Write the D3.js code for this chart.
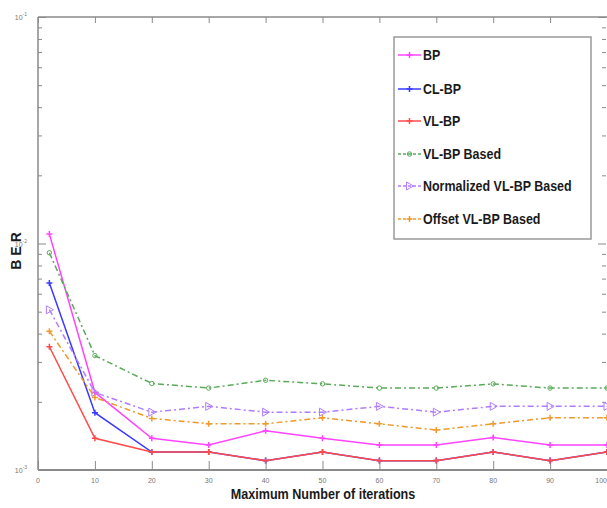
<!DOCTYPE html>
<html>
<head>
<meta charset="utf-8">
<script src="https://cdn.jsdelivr.net/npm/d3@7"></script>
<style>
  body { margin: 0; background: #fff; }
  svg { display: block; }
  .lbl { font-family: "Liberation Sans", Arial, sans-serif; font-weight: bold; }
</style>
</head>
<body>
<div id="chart"></div>
<script>
// iterations on the x axis
let iterations = [2, 10, 20, 30, 40, 50, 60, 70, 80, 90, 100];

// BER values
let bp         = [0.0110, 0.0022, 0.00138, 0.00129, 0.00149, 0.00138, 0.00129, 0.00129, 0.00139, 0.00129, 0.00129];
let clBp       = [0.0067, 0.00179, 0.00120, 0.00120, 0.00110, 0.00120, 0.00110, 0.00110, 0.00120, 0.00110, 0.00120];
let vlBp       = [0.0035, 0.00138, 0.00120, 0.00120, 0.00110, 0.00120, 0.00110, 0.00110, 0.00120, 0.00110, 0.00120];
let vlBpBased  = [0.0091, 0.0032, 0.00241, 0.00230, 0.00249, 0.00240, 0.00230, 0.00230, 0.00240, 0.00230, 0.00230];
let normVlBp   = [0.0051, 0.0022, 0.00180, 0.00191, 0.00180, 0.00180, 0.00191, 0.00180, 0.00191, 0.00191, 0.00191];
let offsetVlBp = [0.0041, 0.00209, 0.00169, 0.00160, 0.00160, 0.00170, 0.00160, 0.00150, 0.00160, 0.00170, 0.00170];

let seriesNames = ["BP", "CL-BP", "VL-BP", "VL-BP Based", "Normalized VL-BP Based", "Offset VL-BP Based"];
let seriesValues = [bp, clBp, vlBp, vlBpBased, normVlBp, offsetVlBp];
let seriesColors = ["#ff44ff", "#3a3aff", "#ff4a4a", "#5aaa5a", "#b07cff", "#ef9a2e"];
let seriesDash = ["", "", "", "6,3,2,3", "6,3,2,3", "6,3,2,3"];
let seriesMarker = ["plus", "plus", "plus", "circle", "tri", "plus"];

let xTicks = [0, 10, 20, 30, 40, 50, 60, 70, 80, 90, 100];
let yDecades = [-3, -2, -1];

let w = 607;
let h = 508;
let padL = 38, padT = 17, padR = 607, padB = 470;

let svg = d3.select("#chart")
    .append("svg")
    .attr("width", w)
    .attr("height", h);

let x = d3.scaleLinear().domain([0, 100]).range([padL, padR]);
let y = d3.scaleLog().domain([1e-3, 1e-1]).range([padB, padT]);

let axisColor = "#8a8a8a";

// minor log ticks
let minor = [];
yDecades.slice(0, 2).forEach(function (e) {
    for (let k = 2; k <= 9; k++) {
        minor.push(k * Math.pow(10, e));
    }
});
let major = yDecades.map(function (e) { return Math.pow(10, e); });

function tickGroup(axis, tx, ty) {
    let g = svg.append("g")
        .attr("transform", "translate(" + tx + "," + ty + ")")
        .call(axis);
    g.select(".domain").remove();
    g.selectAll("line").attr("stroke", axisColor);
}

tickGroup(d3.axisRight(y).tickValues(minor).tickSize(4).tickFormat(""), padL, 0);
tickGroup(d3.axisRight(y).tickValues(major).tickSize(8).tickFormat(""), padL, 0);
tickGroup(d3.axisLeft(y).tickValues(minor).tickSize(4).tickFormat(""), padR - 1, 0);
tickGroup(d3.axisLeft(y).tickValues(major).tickSize(8).tickFormat(""), padR - 1, 0);
tickGroup(d3.axisTop(x).tickValues(xTicks).tickSize(9).tickFormat(""), 0, padB);
tickGroup(d3.axisBottom(x).tickValues(xTicks).tickSize(6).tickFormat(""), 0, padT);

// frame
svg.append("line").attr("x1", padL).attr("x2", padR).attr("y1", padB).attr("y2", padB)
    .attr("stroke", axisColor).attr("stroke-width", 2);
svg.append("line").attr("x1", padL).attr("x2", padL).attr("y1", padT).attr("y2", padB)
    .attr("stroke", axisColor).attr("stroke-width", 1.5);
svg.append("line").attr("x1", padL).attr("x2", padR).attr("y1", padT).attr("y2", padT)
    .attr("stroke", axisColor).attr("stroke-width", 1.5);

// tick labels
svg.selectAll(".xlbl")
    .data(xTicks)
    .enter()
    .append("text")
    .attr("class", "xlbl")
    .attr("x", function (d) { return x(d); })
    .attr("y", padB + 13)
    .attr("text-anchor", function (d) { return d === 100 ? "end" : "middle"; })
    .attr("font-family", "Liberation Sans, sans-serif")
    .attr("font-size", "7px")
    .attr("fill", "#777")
    .text(function (d) { return d; });

let yl = svg.selectAll(".ylbl")
    .data(yDecades)
    .enter()
    .append("text")
    .attr("class", "ylbl")
    .attr("x", padL - 11)
    .attr("y", function (d) { return y(Math.pow(10, d)) + 3; })
    .attr("text-anchor", "end")
    .attr("font-family", "Liberation Sans, sans-serif")
    .attr("font-size", "7px")
    .attr("fill", "#777");
yl.append("tspan").text("10");
yl.append("tspan").attr("dy", -4).attr("font-size", "5px").text(function (d) { return d; });

// axis titles
svg.append("text")
    .attr("class", "lbl")
    .attr("transform", "translate(323,499) scale(0.9,1)")
    .attr("text-anchor", "middle")
    .attr("font-size", "14px")
    .attr("fill", "#1a1a1a")
    .text("Maximum Number of iterations");

svg.append("text")
    .attr("class", "lbl")
    .attr("transform", "translate(21,249) rotate(-90)")
    .attr("text-anchor", "middle")
    .attr("font-size", "14px")
    .attr("letter-spacing", "4px")
    .attr("fill", "#1a1a1a")
    .text("BER");

// markers
function drawMarker(g, type, color, cx, cy) {
    if (type === "plus") {
        g.append("path")
            .attr("d", "M" + (cx - 3) + "," + cy + "H" + (cx + 3) + "M" + cx + "," + (cy - 3) + "V" + (cy + 3))
            .attr("stroke", color).attr("stroke-width", 1.5).attr("fill", "none");
    } else if (type === "tri") {
        g.append("path")
            .attr("d", "M" + (cx - 3) + "," + (cy - 4) + "L" + (cx + 4) + "," + cy + "L" + (cx - 3) + "," + (cy + 4) + "Z")
            .attr("stroke", color).attr("stroke-width", 1).attr("fill", "none");
    } else {
        g.append("circle").attr("cx", cx).attr("cy", cy).attr("r", 2.2)
            .attr("stroke", color).attr("stroke-width", 1).attr("fill", "none");
    }
}

let line = d3.line()
    .x(function (d, i) { return x(iterations[i]); })
    .y(function (d) { return y(d); });

seriesValues.forEach(function (vals, s) {
    let g = svg.append("g");
    g.append("path")
        .attr("d", line(vals))
        .attr("fill", "none")
        .attr("stroke", seriesColors[s])
        .attr("stroke-width", 1.5)
        .attr("stroke-dasharray", seriesDash[s]);
    vals.forEach(function (v, i) {
        drawMarker(g, seriesMarker[s], seriesColors[s], x(iterations[i]), y(v));
    });
});

// legend
let legend = svg.append("g");
legend.append("rect")
    .attr("x", 394).attr("y", 37).attr("width", 197).attr("height", 202)
    .attr("fill", "#fff").attr("stroke", "#999").attr("stroke-width", 1.5);

let legendY = [55, 89, 121, 154, 186, 219];
seriesNames.forEach(function (name, s) {
    let ly = legendY[s];
    legend.append("line")
        .attr("x1", 398).attr("x2", 421).attr("y1", ly).attr("y2", ly)
        .attr("stroke", seriesColors[s]).attr("stroke-width", 1.5)
        .attr("stroke-dasharray", seriesDash[s] ? "3,2" : "");
    drawMarker(legend, seriesMarker[s], seriesColors[s], 409.5, ly);
    legend.append("text")
        .attr("class", "lbl")
        .attr("transform", "translate(423," + (ly + 5) + ") scale(0.89,1)")
        .attr("font-size", "14px")
        .attr("fill", "#1a1a1a")
        .text(name);
});
</script>
</body>
</html>
